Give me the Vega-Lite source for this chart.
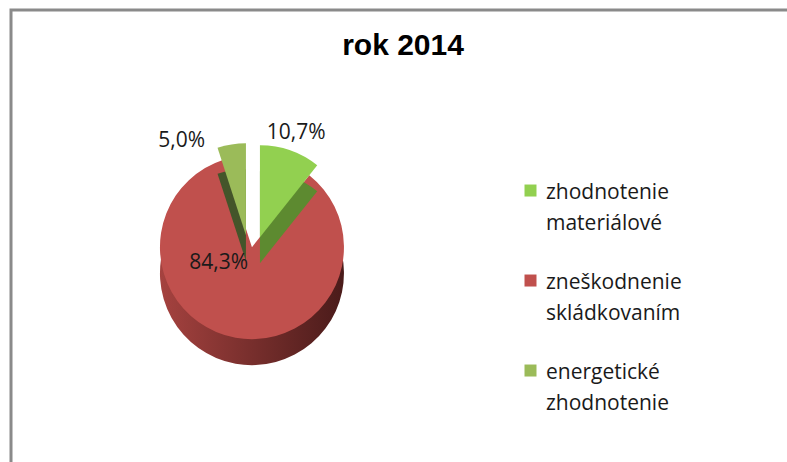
{
  "$schema": "https://vega.github.io/schema/vega-lite/v6.json",
  "autosize": "none",
  "width": 790,
  "height": 465,
  "padding": {"left": 11, "top": 10, "right": 0, "bottom": 0},
  "background": "white",
  "config": {
    "view": {"stroke": "#8a8a8a", "strokeWidth": 3},
    "font": "Open Sans",
    "style": {"guide-label": {"lineHeight": 31}}
  },
  "title": {
    "text": "rok 2014",
    "font": "Liberation Sans",
    "fontSize": 30,
    "fontWeight": "bold",
    "color": "#000000",
    "anchor": "middle",
    "frame": "group",
    "baseline": "alphabetic",
    "offset": -46,
    "dy": 29,
    "dx": -3
  },
  "data": {
    "values": [
      {"kategoria": "zhodnotenie materiálové", "podiel": 10.7, "popis": "10,7%", "poradie": 1},
      {"kategoria": "zneškodnenie skládkovaním", "podiel": 84.3, "popis": "84,3%", "poradie": 2},
      {"kategoria": "energetické zhodnotenie", "podiel": 5.0, "popis": "5,0%", "poradie": 3}
    ]
  },
  "encoding": {
    "theta": {"field": "podiel", "type": "quantitative", "stack": true},
    "order": {"field": "poradie", "type": "quantitative"},
    "x": {"datum": 0.305, "type": "quantitative", "scale": {"domain": [0, 1]}, "axis": null},
    "y": {"datum": 0.49, "type": "quantitative", "scale": {"domain": [0, 1]}, "axis": null}
  },
  "layer": [
    {
      "mark": {"type": "arc", "outerRadius": 92, "yOffset": 26},
      "encoding": {
        "fill": {"value": {"gradient": "linear", "x1": 0, "y1": 0, "x2": 1, "y2": 0, "stops": [{"offset": 0, "color": "#a5423f"}, {"offset": 1, "color": "#4a1b1a"}]}},
        "opacity": {"condition": {"test": "datum.poradie === 2", "value": 1}, "value": 0}
      }
    },
    {
      "mark": {"type": "arc", "outerRadius": 92},
      "encoding": {
        "color": {
          "field": "kategoria",
          "type": "nominal",
          "scale": {"domain": ["zhodnotenie materiálové", "zneškodnenie skládkovaním", "energetické zhodnotenie"], "range": ["#92d050", "#c0504d", "#9bbb59"]},
          "legend": {
            "orient": "none",
            "legendX": 509,
            "legendY": 178,
            "title": null,
            "labelExpr": "datum.label === 'zhodnotenie materiálové' ? ['zhodnotenie', 'materiálové'] : datum.label === 'zneškodnenie skládkovaním' ? ['zneškodnenie', 'skládkovaním'] : ['energetické', 'zhodnotenie']",
            "labelFont": "Open Sans",
            "labelFontSize": 21,
            "labelBaseline": "alphabetic",
            "labelColor": "#1a1a1a",
            "labelLimit": 300,
            "labelOffset": 5,
            "rowPadding": 37,
            "symbolType": "M-1,-2.33H1V-0.33H-1Z",
            "symbolSize": 144,
            "symbolStrokeWidth": 0
          }
        },
        "opacity": {"condition": {"test": "datum.poradie === 2", "value": 1}, "value": 0}
      }
    },
    {
      "mark": {"type": "arc", "outerRadius": 92, "xOffset": 8, "yOffset": 16},
      "encoding": {
        "fill": {"value": "#5d8a30"},
        "opacity": {"condition": {"test": "datum.poradie === 1", "value": 1}, "value": 0}
      }
    },
    {
      "mark": {"type": "arc", "outerRadius": 92, "xOffset": 8, "yOffset": -10},
      "encoding": {
        "color": {"field": "kategoria", "type": "nominal"},
        "opacity": {"condition": {"test": "datum.poradie === 1", "value": 1}, "value": 0}
      }
    },
    {
      "mark": {"type": "arc", "outerRadius": 92, "xOffset": -6, "yOffset": 14},
      "encoding": {
        "fill": {"value": "#44552a"},
        "opacity": {"condition": {"test": "datum.poradie === 3", "value": 1}, "value": 0}
      }
    },
    {
      "mark": {"type": "arc", "outerRadius": 92, "xOffset": -6, "yOffset": -12},
      "encoding": {
        "color": {"field": "kategoria", "type": "nominal"},
        "opacity": {"condition": {"test": "datum.poradie === 3", "value": 1}, "value": 0}
      }
    },
    {
      "mark": {"type": "text", "radius": 110, "xOffset": 8, "yOffset": -10, "fontSize": 21, "font": "Open Sans", "color": "#1a1a1a"},
      "encoding": {
        "text": {"field": "popis"},
        "opacity": {"condition": {"test": "datum.poradie === 1", "value": 1}, "value": 0}
      }
    },
    {
      "mark": {"type": "text", "radius": 30, "dx": -28, "dy": -14, "fontSize": 21, "font": "Open Sans", "color": "#1a1a1a"},
      "encoding": {
        "text": {"field": "popis"},
        "opacity": {"condition": {"test": "datum.poradie === 2", "value": 1}, "value": 0}
      }
    },
    {
      "mark": {"type": "text", "radius": 110, "xOffset": -6, "yOffset": -12, "dx": -47, "dy": 14, "fontSize": 21, "font": "Open Sans", "color": "#1a1a1a"},
      "encoding": {
        "text": {"field": "popis"},
        "opacity": {"condition": {"test": "datum.poradie === 3", "value": 1}, "value": 0}
      }
    }
  ]
}
